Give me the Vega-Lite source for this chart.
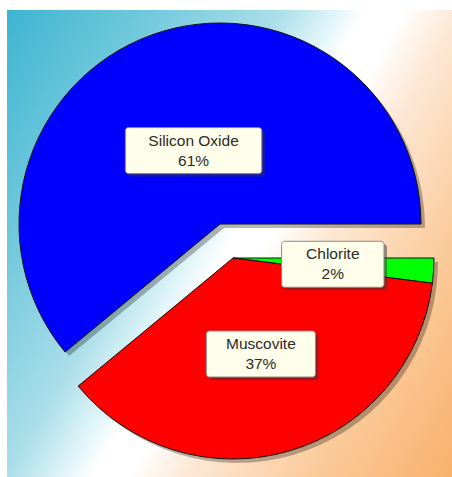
{
  "$schema": "https://vega.github.io/schema/vega-lite/v6.json",
  "width": 452,
  "height": 477,
  "autosize": {"type": "fit", "contains": "padding"},
  "padding": {"left": 7, "top": 10, "right": 0, "bottom": 0},
  "background": "white",
  "config": {"view": {"stroke": null}},
  "data": {"values": [
    {"mineral": "Chlorite", "pct": 2},
    {"mineral": "Muscovite", "pct": 37},
    {"mineral": "Silicon Oxide", "pct": 61}
  ]},
  "layer": [
    {
      "data": {"values": [{}]},
      "mark": {"type": "rect", "stroke": null, "fill": {"gradient": "linear", "x1": 0, "y1": 0, "x2": 1.171, "y2": 0.724,
        "stops": [
          {"offset": 0, "color": "#3db5d1"},
          {"offset": 0.2, "color": "#72c9dc"},
          {"offset": 0.38, "color": "#aadee9"},
          {"offset": 0.46, "color": "#e2f5f9"},
          {"offset": 0.5, "color": "#ffffff"},
          {"offset": 0.55, "color": "#ffffff"},
          {"offset": 0.63, "color": "#fde8d5"},
          {"offset": 0.8, "color": "#fbcb9c"},
          {"offset": 1, "color": "#f9b06c"}
        ]}},
      "encoding": {}
    },
    {
      "transform": [
        {"stack": "pct", "groupby": [], "sort": [{"field": "mineral", "order": "ascending"}], "as": ["v0", "v1"]},
        {"filter": "datum.mineral == 'Silicon Oxide'"}
      ],
      "mark": {"type": "arc", "radius": 201, "xOffset": -5.5, "yOffset": -15.5, "fill": "#000000", "opacity": 0.28},
      "encoding": {
        "theta": {"field": "v0", "type": "quantitative", "stack": null, "scale": {"domain": [0, 100], "range": [1.5708, 7.854]}},
        "theta2": {"field": "v1"}
      }
    },
    {
      "transform": [
        {"stack": "pct", "groupby": [], "sort": [{"field": "mineral", "order": "ascending"}], "as": ["v0", "v1"]},
        {"filter": "datum.mineral != 'Silicon Oxide'"}
      ],
      "mark": {"type": "arc", "radius": 201, "xOffset": 7.5, "yOffset": 18.5, "fill": "#000000", "opacity": 0.28},
      "encoding": {
        "theta": {"field": "v0", "type": "quantitative", "stack": null, "scale": {"domain": [0, 100], "range": [1.5708, 7.854]}},
        "theta2": {"field": "v1"}
      }
    },
    {
      "transform": [
        {"stack": "pct", "groupby": [], "sort": [{"field": "mineral", "order": "ascending"}], "as": ["v0", "v1"]},
        {"filter": "datum.mineral == 'Silicon Oxide'"}
      ],
      "mark": {"type": "arc", "radius": 201, "xOffset": -9.5, "yOffset": -19.5, "stroke": "#111111", "strokeWidth": 1, "strokeJoin": "miter"},
      "encoding": {
        "theta": {"field": "v0", "type": "quantitative", "stack": null, "scale": {"domain": [0, 100], "range": [1.5708, 7.854]}},
        "theta2": {"field": "v1"},
        "color": {"field": "mineral", "type": "nominal", "legend": null, "scale": {"domain": ["Chlorite", "Muscovite", "Silicon Oxide"], "range": ["#00ff00", "#ff0000", "#0000ff"]}}
      }
    },
    {
      "transform": [
        {"stack": "pct", "groupby": [], "sort": [{"field": "mineral", "order": "ascending"}], "as": ["v0", "v1"]},
        {"filter": "datum.mineral != 'Silicon Oxide'"}
      ],
      "mark": {"type": "arc", "radius": 201, "xOffset": 3.5, "yOffset": 14.5, "stroke": "#111111", "strokeWidth": 1, "strokeJoin": "miter"},
      "encoding": {
        "theta": {"field": "v0", "type": "quantitative", "stack": null, "scale": {"domain": [0, 100], "range": [1.5708, 7.854]}},
        "theta2": {"field": "v1"},
        "color": {"field": "mineral", "type": "nominal", "legend": null}
      }
    },
    {
      "transform": [
        {"stack": "pct", "groupby": [], "sort": [{"field": "mineral", "order": "ascending"}], "as": ["v0", "v1"]},
        {"calculate": "PI / 2 + (datum.v0 + datum.v1) / 100 * PI", "as": "mid"},
        {"calculate": "datum.mineral == 'Silicon Oxide' ? 78 : 100", "as": "lr"},
        {"calculate": "datum.mineral == 'Silicon Oxide' ? -9.5 : 3.5", "as": "ox"},
        {"calculate": "datum.mineral == 'Silicon Oxide' ? -19.5 : 14.5", "as": "oy"},
        {"calculate": "sin(datum.mid) * datum.lr + datum.ox", "as": "lx"},
        {"calculate": "-cos(datum.mid) * datum.lr + datum.oy", "as": "ly"},
        {"calculate": "length(datum.mineral) * 3.4 + 24", "as": "hw"},
        {"calculate": "datum.lx - datum.hw", "as": "bx1"},
        {"calculate": "datum.lx + datum.hw", "as": "bx2"},
        {"calculate": "datum.ly - 23", "as": "by1"},
        {"calculate": "datum.ly + 23", "as": "by2"},
        {"calculate": "datum.mineral + '\\n' + datum.pct + '%'", "as": "label"}
      ],
      "layer": [
        {
          "mark": {"type": "rect", "fill": "#333333", "opacity": 0.5, "cornerRadius": 3, "xOffset": 3, "x2Offset": 3, "yOffset": 3, "y2Offset": 3},
          "encoding": {
            "x": {"field": "bx1", "type": "quantitative", "axis": null, "scale": {"domain": [-222.5, 222.5], "nice": false, "zero": false}},
            "x2": {"field": "bx2"},
            "y": {"field": "by1", "type": "quantitative", "axis": null, "scale": {"domain": [-233.5, 233.5], "nice": false, "zero": false, "reverse": true}},
            "y2": {"field": "by2"}
          }
        },
        {
          "mark": {"type": "rect", "fill": "#fffeea", "stroke": "#8a8a8a", "strokeWidth": 1, "cornerRadius": 3},
          "encoding": {
            "x": {"field": "bx1", "type": "quantitative"},
            "x2": {"field": "bx2"},
            "y": {"field": "by1", "type": "quantitative"},
            "y2": {"field": "by2"}
          }
        },
        {
          "mark": {"type": "text", "font": "Liberation Sans", "fontSize": 15.5, "fill": "#2a2a2a", "align": "center", "baseline": "middle", "lineBreak": "\n", "lineHeight": 20, "dy": -10},
          "encoding": {
            "x": {"field": "lx", "type": "quantitative"},
            "y": {"field": "ly", "type": "quantitative"},
            "text": {"field": "label", "type": "nominal"}
          }
        }
      ]
    }
  ]
}
